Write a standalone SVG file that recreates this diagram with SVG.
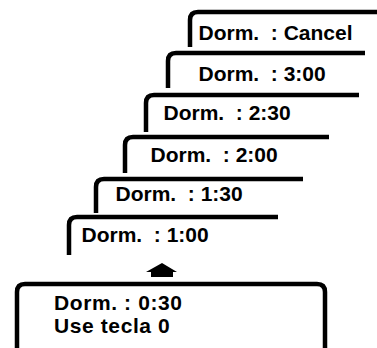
<svg xmlns="http://www.w3.org/2000/svg" width="377" height="348" viewBox="0 0 377 348">
<style>
.c{fill:none;stroke:#000;stroke-width:4.5;stroke-linecap:butt;stroke-linejoin:round}
.t{font-family:"Liberation Sans",Arial,sans-serif;font-weight:bold;font-size:21px;fill:#000}
.b{letter-spacing:0.6px}
</style>
<rect width="377" height="348" fill="#fff"/>
<g id="card-cancel">
<path class="c" d="M190,47 V20 Q190,12 198,12 H377"/>
<text class="t" x="198.5" y="40" xml:space="preserve">Dorm.  : Cancel</text>
</g>
<g id="card-300">
<path class="c" d="M168,88 V61 Q168,53 176,53 H365"/>
<text class="t" x="198.5" y="81" xml:space="preserve">Dorm.  : 3:00</text>
</g>
<g id="card-230">
<path class="c" d="M146,132 V103 Q146,95 154,95 H359"/>
<text class="t" x="163.5" y="120" xml:space="preserve">Dorm.  : 2:30</text>
</g>
<g id="card-200">
<path class="c" d="M125,173 V145 Q125,137 133,137 H329"/>
<text class="t" x="150.5" y="162" xml:space="preserve">Dorm.  : 2:00</text>
</g>
<g id="card-130">
<path class="c" d="M96,213 V187 Q96,179 104,179 H303"/>
<text class="t" x="115.5" y="201" xml:space="preserve">Dorm.  : 1:30</text>
</g>
<g id="card-100">
<path class="c" d="M69,255 V225 Q69,217 77,217 H278"/>
<text class="t" x="81.5" y="242" xml:space="preserve">Dorm.  : 1:00</text>
</g>
<g id="arrow">
<path d="M162,263 L177,272 H173 V277 H151 V272 H146 Z" fill="#000"/>
</g>
<g id="display">
<path class="c" d="M17,348 V292 Q17,284 25,284 H317 Q325,284 325,292 V348"/>
<text class="t b" x="54" y="310">Dorm. : 0:30</text>
<text class="t b" x="54" y="333">Use tecla 0</text>
</g>
</svg>
